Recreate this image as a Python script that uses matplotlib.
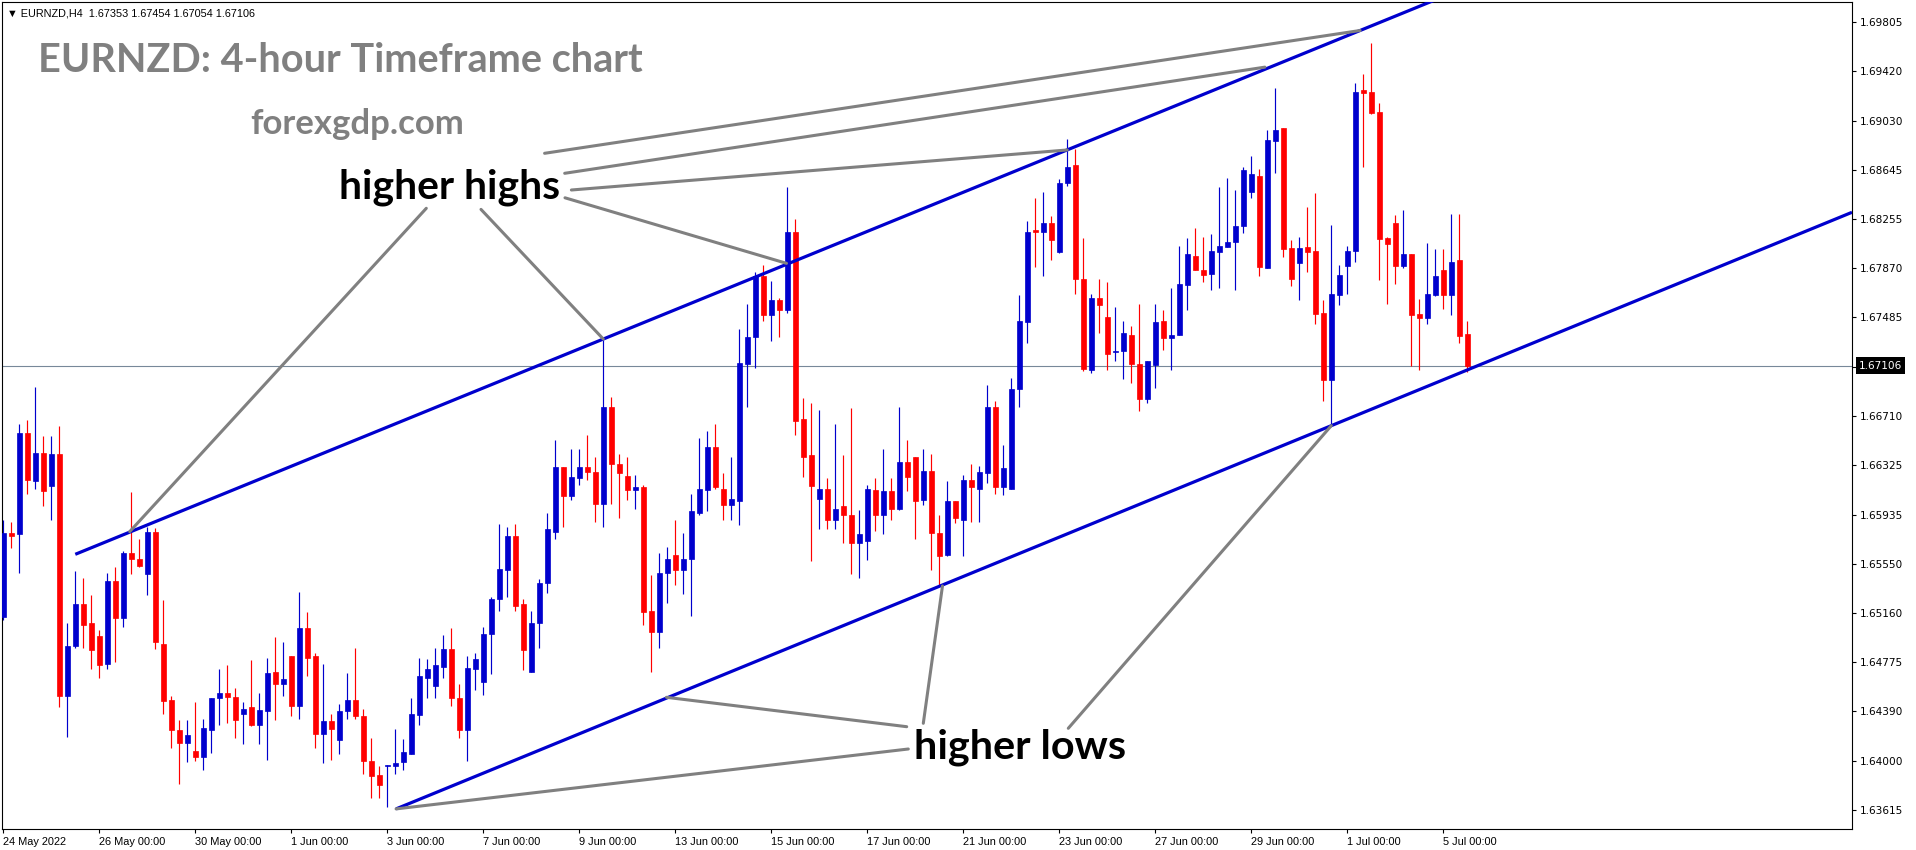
import numpy as np
import matplotlib
matplotlib.use('Agg')
import matplotlib.pyplot as plt

# EURNZD H4 candles, 24 May 2022 -> 5 Jul 2022
opens = [1.6513, 1.6579, 1.6578, 1.6658, 1.6620, 1.6642, 1.6616, 1.6641, 1.6451, 1.6490,
         1.6523, 1.6508, 1.6498, 1.6476, 1.6541, 1.6512, 1.6563, 1.6559, 1.6547, 1.6580,
         1.6492, 1.6448, 1.6424, 1.6414, 1.6408, 1.6403, 1.6424, 1.6449, 1.6453, 1.6450,
         1.6437, 1.6442, 1.6428, 1.6439, 1.6470, 1.6460, 1.6482, 1.6443, 1.6504, 1.6482,
         1.6421, 1.6431, 1.6416, 1.6439, 1.6448, 1.6435, 1.6400, 1.6389, 1.6396, 1.6396,
         1.6399, 1.6405, 1.6436, 1.6465, 1.6459, 1.6474, 1.6488, 1.6449, 1.6424, 1.6472,
         1.6462, 1.6500, 1.6527, 1.6550, 1.6577, 1.6523, 1.6470, 1.6508, 1.6540, 1.6580,
         1.6631, 1.6608, 1.6622, 1.6631, 1.6627, 1.6602, 1.6678, 1.6633, 1.6624, 1.6613,
         1.6615, 1.6518, 1.6501, 1.6548, 1.6562, 1.6550, 1.6559, 1.6595, 1.6613, 1.6647,
         1.6614, 1.6601, 1.6604, 1.6712, 1.6733, 1.6781, 1.6750, 1.6762, 1.6754, 1.6816,
         1.6669, 1.6640, 1.6606, 1.6614, 1.6589, 1.6600, 1.6593, 1.6571, 1.6573, 1.6613,
         1.6593, 1.6612, 1.6598, 1.6635, 1.6639, 1.6605, 1.6628, 1.6579, 1.6562, 1.6604,
         1.6589, 1.6621, 1.6614, 1.6626, 1.6678, 1.6615, 1.6614, 1.6692, 1.6745, 1.6817,
         1.6816, 1.6823, 1.6800, 1.6854, 1.6868, 1.6779, 1.6707, 1.6764, 1.6749, 1.6721,
         1.6722, 1.6735, 1.6712, 1.6684, 1.6711, 1.6746, 1.6732, 1.6735, 1.6774, 1.6797,
         1.6786, 1.6783, 1.6800, 1.6804, 1.6808, 1.6820, 1.6847, 1.6860, 1.6787, 1.6887,
         1.6897, 1.6803, 1.6791, 1.6804, 1.6801, 1.6752, 1.6699, 1.6766, 1.6789, 1.6801,
         1.6927, 1.6926, 1.6910, 1.6811, 1.6823, 1.6789, 1.6798, 1.6751, 1.6748, 1.6766,
         1.6786, 1.6766, 1.6794, 1.67353]
highs = [1.6589, 1.6588, 1.6665, 1.6668, 1.6694, 1.6655, 1.6655, 1.6663, 1.6508, 1.6549,
         1.6544, 1.6530, 1.6503, 1.6548, 1.6552, 1.6565, 1.6611, 1.6574, 1.6584, 1.6583,
         1.6526, 1.6451, 1.6432, 1.6432, 1.6446, 1.6433, 1.6449, 1.6472, 1.6475, 1.6457,
         1.6446, 1.6479, 1.6453, 1.6481, 1.6497, 1.6493, 1.6482, 1.6533, 1.6517, 1.6485,
         1.6476, 1.6437, 1.6445, 1.6469, 1.6489, 1.6441, 1.6418, 1.6396, 1.6397, 1.6425,
         1.6417, 1.6449, 1.6481, 1.6480, 1.6489, 1.6499, 1.6504, 1.6460, 1.6482, 1.6485,
         1.6505, 1.6529, 1.6586, 1.6584, 1.6586, 1.6527, 1.6518, 1.6543, 1.6595, 1.6652,
         1.6631, 1.6645, 1.6645, 1.6656, 1.6639, 1.6731, 1.6686, 1.6641, 1.6639, 1.6625,
         1.6617, 1.6546, 1.6563, 1.6568, 1.6589, 1.6579, 1.6610, 1.6654, 1.6659, 1.6665,
         1.6626, 1.6639, 1.6739, 1.6759, 1.6784, 1.6790, 1.6777, 1.6764, 1.6851, 1.6826,
         1.6685, 1.6681, 1.6676, 1.6622, 1.6665, 1.6640, 1.6677, 1.6597, 1.6617, 1.6622,
         1.6645, 1.6622, 1.6678, 1.6652, 1.6639, 1.6645, 1.6641, 1.6593, 1.6620, 1.6604,
         1.6625, 1.6633, 1.6632, 1.6695, 1.6683, 1.6648, 1.6701, 1.6766, 1.6824, 1.6842,
         1.6847, 1.6828, 1.6857, 1.6889, 1.6881, 1.6811, 1.6767, 1.6779, 1.6776, 1.6757,
         1.6746, 1.6742, 1.6759, 1.6714, 1.6759, 1.6754, 1.6772, 1.6805, 1.6811, 1.6819,
         1.6812, 1.6814, 1.6851, 1.6858, 1.6849, 1.6867, 1.6875, 1.6865, 1.6896, 1.6929,
         1.6897, 1.6809, 1.6812, 1.6835, 1.6846, 1.6762, 1.6821, 1.6790, 1.6805, 1.6933,
         1.6940, 1.6964, 1.6917, 1.6812, 1.6829, 1.6833, 1.6798, 1.6763, 1.6807, 1.6802,
         1.6802, 1.6830, 1.6830, 1.67454]
lows = [1.6511, 1.6567, 1.6548, 1.6610, 1.6614, 1.6600, 1.6589, 1.6442, 1.6419, 1.6489,
        1.6489, 1.6472, 1.6465, 1.6472, 1.6478, 1.6505, 1.6547, 1.6552, 1.6530, 1.6488,
        1.6437, 1.6410, 1.6382, 1.6399, 1.6400, 1.6393, 1.6406, 1.6428, 1.6430, 1.6418,
        1.6413, 1.6427, 1.6413, 1.6401, 1.6432, 1.6451, 1.6435, 1.6433, 1.6467, 1.6410,
        1.6398, 1.6401, 1.6405, 1.6433, 1.6433, 1.6390, 1.6371, 1.6371, 1.6364, 1.6390,
        1.6393, 1.6405, 1.6428, 1.6449, 1.6449, 1.6465, 1.6443, 1.6418, 1.6400, 1.6456,
        1.6452, 1.6468, 1.6518, 1.6529, 1.6518, 1.6471, 1.6470, 1.6489, 1.6532, 1.6574,
        1.6584, 1.6605, 1.6617, 1.6621, 1.6588, 1.6584, 1.6602, 1.6591, 1.6605, 1.6598,
        1.6507, 1.6470, 1.6489, 1.6524, 1.6538, 1.6531, 1.6514, 1.6593, 1.6596, 1.6614,
        1.6589, 1.6589, 1.6585, 1.6678, 1.6709, 1.6746, 1.6730, 1.6733, 1.6752, 1.6656,
        1.6623, 1.6557, 1.6582, 1.6582, 1.6582, 1.6571, 1.6547, 1.6544, 1.6558, 1.6581,
        1.6578, 1.6589, 1.6597, 1.6612, 1.6574, 1.6601, 1.6550, 1.6538, 1.6561, 1.6587,
        1.6561, 1.6588, 1.6588, 1.6618, 1.6610, 1.6609, 1.6614, 1.6678, 1.6728, 1.6788,
        1.6781, 1.6794, 1.6799, 1.6852, 1.6767, 1.6706, 1.6705, 1.6736, 1.6707, 1.6714,
        1.6700, 1.6697, 1.6675, 1.6681, 1.6693, 1.6723, 1.6707, 1.6735, 1.6754, 1.6786,
        1.6776, 1.6770, 1.6772, 1.6804, 1.6770, 1.6815, 1.6842, 1.6781, 1.6787, 1.6862,
        1.6796, 1.6773, 1.6762, 1.6784, 1.6743, 1.6683, 1.6663, 1.6758, 1.6767, 1.6792,
        1.6867, 1.6908, 1.6778, 1.6759, 1.6775, 1.6787, 1.6710, 1.6707, 1.6743, 1.6765,
        1.6755, 1.6750, 1.6728, 1.67054]
closes = [1.6579, 1.6577, 1.6658, 1.6621, 1.6642, 1.6612, 1.6641, 1.6451, 1.6490, 1.6523,
          1.6507, 1.6487, 1.6475, 1.6541, 1.6512, 1.6563, 1.6559, 1.6553, 1.6580, 1.6493,
          1.6447, 1.6424, 1.6414, 1.6420, 1.6403, 1.6426, 1.6449, 1.6453, 1.6450, 1.6432,
          1.6441, 1.6428, 1.6440, 1.6469, 1.6460, 1.6464, 1.6443, 1.6504, 1.6481, 1.6421,
          1.6431, 1.6425, 1.6439, 1.6448, 1.6435, 1.6400, 1.6388, 1.6381, 1.6397, 1.6398,
          1.6407, 1.6437, 1.6467, 1.6472, 1.6475, 1.6488, 1.6449, 1.6424, 1.6473, 1.6480,
          1.6500, 1.6527, 1.6551, 1.6577, 1.6522, 1.6487, 1.6508, 1.6540, 1.6582, 1.6631,
          1.6608, 1.6623, 1.6631, 1.6627, 1.6602, 1.6678, 1.6633, 1.6626, 1.6613, 1.6615,
          1.6517, 1.6501, 1.6548, 1.6559, 1.6550, 1.6559, 1.6596, 1.6614, 1.6647, 1.6615,
          1.6601, 1.6606, 1.6713, 1.6733, 1.6781, 1.6750, 1.6762, 1.6754, 1.6816, 1.6667,
          1.6639, 1.6616, 1.6614, 1.6589, 1.6598, 1.6593, 1.6571, 1.6578, 1.6614, 1.6593,
          1.6612, 1.6598, 1.6635, 1.6623, 1.6604, 1.6628, 1.6579, 1.6561, 1.6604, 1.6591,
          1.6621, 1.6615, 1.6627, 1.6678, 1.6615, 1.6630, 1.6692, 1.6746, 1.6816, 1.6816,
          1.6823, 1.6809, 1.6854, 1.6867, 1.6779, 1.6708, 1.6764, 1.6758, 1.6720, 1.6722,
          1.6736, 1.6712, 1.6684, 1.6714, 1.6745, 1.6732, 1.6735, 1.6775, 1.6798, 1.6786,
          1.6782, 1.6801, 1.6805, 1.6808, 1.6820, 1.6864, 1.6861, 1.6788, 1.6888, 1.6896,
          1.6802, 1.6779, 1.6803, 1.6800, 1.6751, 1.6699, 1.6767, 1.6782, 1.6801, 1.6926,
          1.6925, 1.6909, 1.6810, 1.6806, 1.6789, 1.6798, 1.6750, 1.6748, 1.6767, 1.6781,
          1.6766, 1.6792, 1.6734, 1.67106]

date_labels = ['24 May 2022', '26 May 00:00', '30 May 00:00', '1 Jun 00:00', '3 Jun 00:00',
               '7 Jun 00:00', '9 Jun 00:00', '13 Jun 00:00', '15 Jun 00:00', '17 Jun 00:00',
               '21 Jun 00:00', '23 Jun 00:00', '27 Jun 00:00', '29 Jun 00:00', '1 Jul 00:00',
               '5 Jul 00:00']
bars_per_label = 12   # 6 H4 bars a day, a label every 2 trading days

price_ticks = [1.63615, 1.64000, 1.64390, 1.64775, 1.65160, 1.65550, 1.65935, 1.66325,
               1.66710, 1.67095, 1.67485, 1.67870, 1.68255, 1.68645, 1.69030, 1.69420, 1.69805]
last_price = 1.67106
header = '\u25bc EURNZD,H4  1.67353 1.67454 1.67054 1.67106'

# channel lines, two (bar index, price) anchors each
upper_line = [(9.0, 1.65623), (169.6, 1.69740)]
lower_line = [(49.1, 1.63622), (166.0, 1.66634)]

# points the grey pointer lines go to
hh_points = [(169.6, 1.69740), (157.7, 1.69452), (133.0, 1.68801),
             (97.9, 1.67910), (15.8, 1.65801), (75.0, 1.67315)]
hl_points = [(82.9, 1.64499), (49.1, 1.63622), (117.4, 1.65374), (166.0, 1.66634)]

BLUE = '#0000CD'
RED = '#FF0000'
GREY = '#808080'
W, H = 1916, 850

fig = plt.figure(figsize=(W / 100, H / 100), dpi=100)
fig.patch.set_facecolor('white')
ax = fig.add_axes([2 / W, (H - 829) / H, 1850 / W, 827 / H])

o = np.array(opens)
h = np.array(highs)
l = np.array(lows)
c = np.array(closes)
x = np.arange(len(c))
cols = np.where(c >= o, BLUE, RED)

ax.axhline(last_price, color='#778899', lw=0.8, zorder=1)
ax.vlines(x, l, h, colors=cols, lw=0.85, zorder=2)
ax.bar(x, np.abs(c - o), bottom=np.minimum(o, c), width=0.56, color=cols,
       edgecolor=cols, linewidth=0.5, zorder=3)

x_left, x_right = -0.16, 231.09
ax.set_xlim(x_left, x_right)
ax.set_ylim(1.63464, 1.69964)

for (x0, y0), (x1, y1) in [upper_line, lower_line]:
    k = (y1 - y0) / (x1 - x0)
    ax.plot([x0, x_right], [y0, y0 + k * (x_right - x0)], color=BLUE, lw=2.3,
            solid_capstyle='butt', zorder=4)

# axes look of the MT4 window
for s in ax.spines.values():
    s.set_color('black')
    s.set_linewidth(0.8)
ax.yaxis.tick_right()
ax.set_yticks(price_ticks)
ax.set_yticklabels(['' if abs(p - 1.67095) < 1e-6 else '%.5f' % p for p in price_ticks])
ax.tick_params(axis='y', direction='out', length=3, width=0.8, pad=3,
               labelsize=7.6, colors='black')
ax.set_xticks(np.arange(len(date_labels)) * bars_per_label)
ax.set_xticklabels(date_labels, ha='left', family='Liberation Sans', fontsize=7.9)
ax.tick_params(axis='x', direction='out', length=3, width=0.8, pad=2.5)

ax.annotate('%.5f' % last_price, xy=(1, last_price), xycoords=('axes fraction', 'data'),
            xytext=(7, 0), textcoords='offset pixels', ha='left', va='center',
            fontsize=7.6, color='white', zorder=10, annotation_clip=False,
            bbox=dict(facecolor='black', edgecolor='none', boxstyle='square,pad=0.3'))

fig.text(7 / W, 1 - 13 / H, header, fontsize=7.8, va='center',
         family=['Liberation Sans', 'DejaVu Sans'])

renderer = fig.canvas.get_renderer()


def put(px, py, s, width, color, size):
    t = fig.text(px / W, 1 - py / H, s, family='Lato', fontweight='bold', color=color,
                 fontsize=size, va='baseline', ha='left')
    w = t.get_window_extent(renderer).width
    t.set_fontsize(size * width / w)
    return t


put(38, 72, 'EURNZD: 4-hour Timeframe chart', 605, GREY, 25)
put(250, 134, 'forexgdp.com', 214, GREY, 22)
put(339, 198, 'higher highs', 221, 'black', 28)
put(914, 758, 'higher lows', 212, 'black', 28)

hh_from = [(544.6, 153.3), (564.7, 173.3), (571.4, 190.0), (565.0, 197.8), (426.3, 208.3), (481.0, 209.4)]
hl_from = [(906.7, 726.7), (908.3, 749.0), (923.3, 723.3), (1068.3, 728.3)]
for pts, starts in [(hh_points, hh_from), (hl_points, hl_from)]:
    for pt, (fx, fy) in zip(pts, starts):
        ax.annotate('', xy=pt, xycoords='data', xytext=(fx / W, 1 - fy / H),
                    textcoords='figure fraction', annotation_clip=False,
                    arrowprops=dict(arrowstyle='-', color=GREY, lw=2.2,
                                    shrinkA=0, shrinkB=0), zorder=6)

fig.savefig('out.png', dpi=100, facecolor='white')
